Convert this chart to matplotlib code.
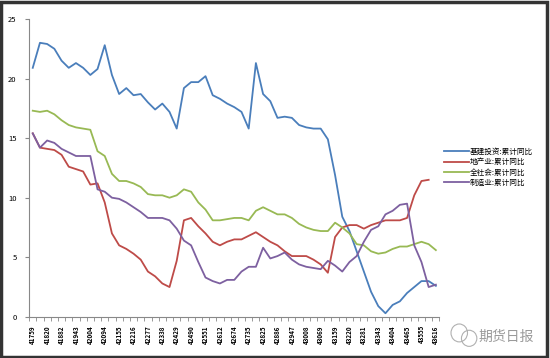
import numpy as np
import matplotlib.pyplot as plt
from matplotlib.patches import Rectangle, Ellipse

plt.rcParams['font.family'] = ['Noto Sans CJK SC', 'DejaVu Sans']

# 横轴标签（Excel日期序号，每隔一个点标注）
tick_labels = ['41759', '41820', '41882', '41943', '42004', '42094', '42155', '42216',
               '42277', '42338', '42429', '42490', '42551', '42612', '42674', '42735',
               '42825', '42886', '42947', '43008', '43069', '43159', '43220', '43281',
               '43343', '43404', '43465', '43555', '43616']

# 基建投资:累计同比
infra = [20.9, 23.0, 22.9, 22.5, 21.5, 20.9, 21.3, 20.9, 20.3, 20.8, 22.8, 20.3,
         18.7, 19.2, 18.6, 18.7, 18.0, 17.4, 17.9, 17.2, 15.8, 19.2, 19.7, 19.7,
         20.2, 18.6, 18.3, 17.9, 17.6, 17.2, 15.8, 21.3, 18.7, 18.1, 16.7, 16.8,
         16.7, 16.1, 15.9, 15.8, 15.8, 14.9, 11.9, 8.4, 7.2, 5.5, 3.8, 2.1,
         0.9, 0.3, 1.0, 1.3, 2.0, 2.5, 3.0, 3.0, 2.6]
# 地产业:累计同比
estate = [15.4, 14.2, 14.1, 14.0, 13.6, 12.6, 12.4, 12.2, 11.1, 11.2, 9.6, 7.0,
          6.0, 5.7, 5.3, 4.8, 3.8, 3.4, 2.8, 2.5, 4.7, 8.1, 8.3, 7.6,
          7.0, 6.3, 6.0, 6.3, 6.5, 6.5, 6.8, 7.1, 6.7, 6.3, 6.0, 5.5,
          5.1, 5.1, 5.1, 4.8, 4.4, 3.7, 6.7, 7.5, 7.7, 7.7, 7.4, 7.7,
          7.9, 8.1, 8.1, 8.1, 8.3, 10.2, 11.4, 11.5, np.nan]
# 全社会:累计同比
total = [17.3, 17.2, 17.3, 17.0, 16.5, 16.1, 15.9, 15.8, 15.7, 13.9, 13.5, 12.0,
         11.4, 11.4, 11.2, 10.9, 10.3, 10.2, 10.2, 10.0, 10.2, 10.7, 10.5, 9.6,
         9.0, 8.1, 8.1, 8.2, 8.3, 8.3, 8.1, 8.9, 9.2, 8.9, 8.6, 8.6,
         8.3, 7.8, 7.5, 7.3, 7.2, 7.2, 7.9, 7.5, 7.0, 6.1, 6.0, 5.5,
         5.3, 5.4, 5.7, 5.9, 5.9, 6.1, 6.3, 6.1, 5.6]
# 制造业:累计同比
manu = [15.4, 14.2, 14.8, 14.6, 14.1, 13.8, 13.5, 13.5, 13.5, 10.7, 10.5, 10.0,
        9.9, 9.6, 9.2, 8.8, 8.3, 8.3, 8.3, 8.1, 7.4, 6.4, 6.0, 4.6,
        3.3, 3.0, 2.8, 3.1, 3.1, 3.8, 4.2, 4.2, 5.8, 4.9, 5.1, 5.4,
        4.8, 4.4, 4.2, 4.1, 4.0, 4.7, 4.3, 3.8, 4.6, 5.1, 6.3, 7.3,
        7.6, 8.6, 8.9, 9.4, 9.5, 6.0, 4.6, 2.5, 2.7]

names = ['基建投资:累计同比', '地产业:累计同比', '全社会:累计同比', '制造业:累计同比']
colors = ['#4a7ebb', '#be4b48', '#98b954', '#7d60a0']

fig = plt.figure(figsize=(5.5, 3.58), dpi=100)
ax = fig.add_axes([0.053, 0.115, 0.746, 0.832])

x = np.arange(len(infra))
for s, n, c in zip([infra, estate, total, manu], names, colors):
    ax.plot(x, s, color=c, lw=1.3, label=n)

ax.set_xlim(-0.5, len(infra) - 0.5)
ax.set_ylim(0, 25)
ax.set_yticks(range(0, 26, 5))
ax.tick_params(axis='y', labelsize=5.5, length=3, color='#888888', pad=6)
ax.set_xticks(x[::2])
ax.set_xticklabels(tick_labels, rotation=90, fontsize=4.5, fontweight='bold')
ax.set_xticks(np.arange(-0.5, len(infra)), minor=True)
ax.tick_params(axis='x', which='major', length=0, pad=6)
ax.tick_params(axis='x', which='minor', length=3, color='#888888')
for sp in ['top', 'right']:
    ax.spines[sp].set_visible(False)
for sp in ['left', 'bottom']:
    ax.spines[sp].set_color('#888888')

leg = ax.legend(loc='upper left', bbox_to_anchor=(0.995, 0.59), frameon=False,
                fontsize=5.5, handlelength=3.2, handletextpad=0.1, labelspacing=0.3)

# 水印
fig.text(0.87, 0.06, '期货日报', fontsize=10, color='#9a9a9a', ha='left', va='center')
fig.patches.append(Ellipse((0.835, 0.07), 0.03, 0.05, transform=fig.transFigure,
                           fill=False, ec='#b0b0b0', lw=0.8))
fig.patches.append(Ellipse((0.853, 0.055), 0.028, 0.045, transform=fig.transFigure,
                           fill=False, ec='#b0b0b0', lw=0.8))

# 外框
fig.patches.append(Rectangle((0.002, 0.004), 0.993, 0.99, transform=fig.transFigure,
                             fill=False, ec='#333333', lw=2.5))

fig.savefig('out.png', dpi=100)
